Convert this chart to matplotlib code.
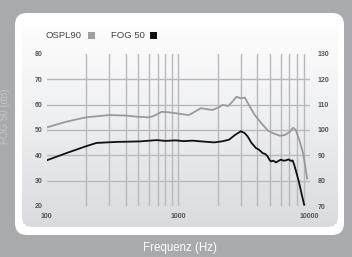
import matplotlib
matplotlib.use('Agg')
import matplotlib.pyplot as plt
import numpy as np
from matplotlib.patches import FancyBboxPatch, Rectangle
from matplotlib.colors import LinearSegmentedColormap

plt.rcParams['font.family'] = ['Liberation Sans', 'DejaVu Sans']

# data
ospl_freq = [100, 142, 200, 300, 400, 500, 600, 650, 750, 850, 962, 1208, 1490,
             1828, 2000, 2178, 2415, 2780, 3000, 3213, 3508, 3827, 4303, 4831,
             5272, 5929, 6471, 7063, 7483, 7840, 8410, 8913, 9557]
ospl_db = [101.0, 103.3, 105.0, 105.9, 105.7, 105.2, 105.0, 105.5, 107.2, 107.0,
           106.6, 105.9, 108.6, 107.9, 108.8, 109.9, 109.5, 113.1, 112.5, 112.8,
           109.2, 105.9, 102.6, 99.7, 98.7, 97.75, 98.0, 99.3, 100.9, 100.0,
           95.4, 90.8, 80.9]

fog_freq = [100, 142, 200, 240, 341, 513, 687, 800, 962, 1100, 1289, 1500, 1880,
            2200, 2443, 2700, 3000, 3200, 3372, 3600, 3899, 4100, 4383, 4600,
            4786, 4950, 5070, 5300, 5535, 5800, 6043, 6300, 6590, 6900, 7200,
            7410, 7600, 7800, 8320, 8700, 9080]
fog_db = [38.0, 40.9, 43.6, 44.9, 45.3, 45.5, 46.0, 45.7, 45.9, 45.6, 45.8, 45.5,
          45.1, 45.6, 46.2, 48.0, 49.5, 48.8, 47.5, 45.0, 42.9, 42.3, 40.9, 40.5,
          39.6, 38.2, 37.6, 37.9, 37.2, 37.8, 38.3, 37.9, 38.0, 38.4, 37.8, 38.0,
          36.5, 34.5, 29.1, 24.5, 20.5]

left_ticks = [20, 30, 40, 50, 60, 70, 80]
right_ticks = [70, 80, 90, 100, 110, 120, 130]
x_ticks = [100, 1000, 10000]
x_tick_labels = ['100', '1000', '10000']

W, H = 352, 257
fig = plt.figure(figsize=(W / 100, H / 100), dpi=100)
fig.patch.set_facecolor('#a9aaad')

# background: white rounded panel with gradient inside
bg = fig.add_axes([0, 0, 1, 1])
bg.set_xlim(0, W)
bg.set_ylim(H, 0)
bg.axis('off')
outer = FancyBboxPatch((27, 25), 344 - 15 - 24, 235 - 13 - 24,
                       boxstyle='round,pad=12', fc='white', ec='none', zorder=1)
bg.add_patch(outer)
inner = FancyBboxPatch((32, 25), 338 - 22 - 20, 227 - 15 - 20,
                       boxstyle='round,pad=10', fc='none', ec='none')
bg.add_patch(inner)
cmap = LinearSegmentedColormap.from_list('panel', ['#ffffff', '#eeeff1', '#dadbdf'])
grad = np.linspace(0, 1, 256).reshape(-1, 1)
im = bg.imshow(grad, cmap=cmap, extent=(22, 338, 227, 15), aspect='auto', zorder=2)
im.set_clip_path(inner)

# legend
bg.text(45, 35.5, 'OSPL90', fontsize=6.8, color='#444444', va='center', ha='left', zorder=3)
bg.add_patch(Rectangle((88, 32), 7, 7, fc='#a0a0a0', ec='none', zorder=3))
bg.text(111, 35.5, 'FOG 50', fontsize=6.8, color='#444444', va='center', ha='left', zorder=3)
bg.add_patch(Rectangle((150, 32), 7, 7, fc='#111111', ec='none', zorder=3))

# main axes
x0, x1 = 46.5, 309.7
y0, y1 = 54, 206
ax = fig.add_axes([x0 / W, 1 - y1 / H, (x1 - x0) / W, (y1 - y0) / H])
ax.set_facecolor('none')
ax.set_xscale('log')
ax.set_xlim(100, 10000)
ax.set_ylim(20, 80)
for s in ax.spines.values():
    s.set_visible(False)

grid_c = '#b9b9bb'
for v in [30, 40, 50, 60, 70]:
    ax.axhline(v, color=grid_c, lw=1.0, zorder=1)
for dec in [100, 1000]:
    for m in range(2, 10):
        ax.axvline(dec * m, color=grid_c, lw=1.0, zorder=1)
ax.axvline(1000, color=grid_c, lw=1.0, zorder=1)

ax.set_xticks(x_ticks)
ax.set_xticklabels(x_tick_labels)
ax.xaxis.set_minor_locator(matplotlib.ticker.NullLocator())
ax.set_yticks(left_ticks)
ax.tick_params(length=0, labelsize=5, labelcolor='#555555')
ax.tick_params(axis='x', pad=5)
ax.tick_params(axis='y', pad=3)
for t in ax.get_xticklabels() + ax.get_yticklabels():
    t.set_fontweight('bold')

ax2 = ax.twinx()
ax2.set_ylim(70, 130)
ax2.set_yticks(right_ticks)
for s in ax2.spines.values():
    s.set_visible(False)
ax2.tick_params(length=0, labelsize=5, labelcolor='#555555', pad=6)
for t in ax2.get_yticklabels():
    t.set_fontweight('bold')

ax2.plot(ospl_freq, ospl_db, color='#9a9a9a', lw=1.3, zorder=3)
ax.plot(fog_freq, fog_db, color='#111111', lw=1.3, zorder=4)

fig.text(179.5 / W, 1 - 248 / H, 'Frequenz (Hz)', color='white', fontsize=8.3,
         ha='center', va='center')
fig.text(5.5 / W, 1 - 116 / H, 'FOG 50 (dB)', color='#c4c5c8', fontsize=7,
         rotation=90, ha='center', va='center')

fig.savefig('out.png', dpi=100, facecolor=fig.get_facecolor())
